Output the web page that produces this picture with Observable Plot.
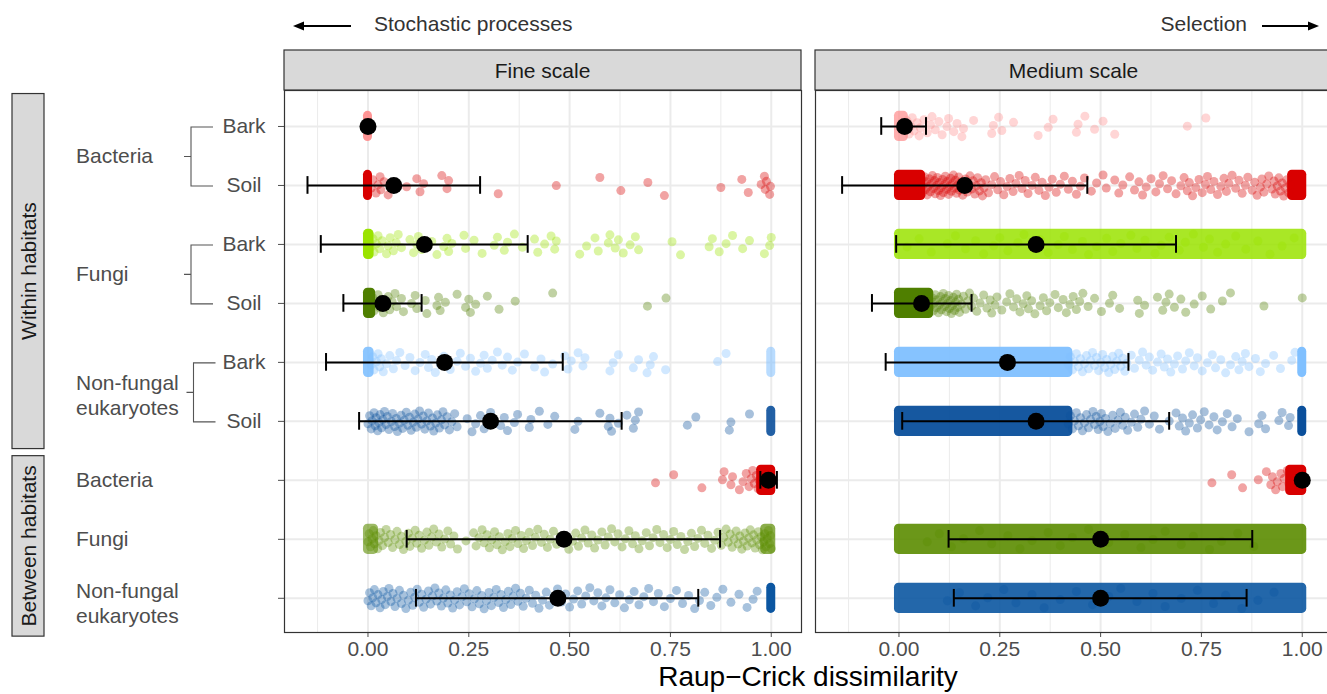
<!DOCTYPE html>
<html><head><meta charset="utf-8">
<script src="https://cdn.jsdelivr.net/npm/d3@7"></script>
<script src="https://cdn.jsdelivr.net/npm/@observablehq/plot@0.6"></script>
<style>
html,body{margin:0;padding:0;overflow:hidden;background:#fff;}
#chart{position:relative;width:1327px;height:694px;overflow:hidden;}
#chart svg{max-width:none !important;}
svg text{font-family:"Liberation Sans",Arial,sans-serif;}
</style></head><body><div id="chart"></div>
<script>
// ---------- categories ----------
const scales = ["Fine scale", "Medium scale"];
const rowIndex = [1, 2, 3, 4, 5, 6, 7, 8, 9];
const comparison = ["Within habitats", "Between habitats"];
const groupLabels = ["Bacteria", "Bacteria", "Fungi", "Fungi", "Non-fungal eukaryotes", "Non-fungal eukaryotes", "Bacteria", "Fungi", "Non-fungal eukaryotes"];
const habitatLabels = ["Bark", "Soil", "Bark", "Soil", "Bark", "Soil", "", "", ""];
const xTicks = [0, 0.25, 0.5, 0.75, 1];

// ---------- summary values (mean and error bar ends) ----------
const fineMean = [0.000, 0.064, 0.140, 0.037, 0.190, 0.304, 0.993, 0.486, 0.471];
const fineLow  = [null, -0.150, -0.117, -0.061, -0.104, -0.022, 0.973, 0.096, 0.119];
const fineHigh = [null, 0.278, 0.396, 0.133, 0.483, 0.629, 1.014, 0.873, 0.819];
const mediumMean = [0.014, 0.163, 0.340, 0.056, 0.269, 0.340, 1.000, 0.500, 0.500];
const mediumLow  = [-0.044, -0.141, -0.007, -0.067, -0.033, 0.008, null, 0.123, 0.136];
const mediumHigh = [0.067, 0.467, 0.687, 0.180, 0.569, 0.670, null, 0.876, 0.862];

// ---------- dense clusters: [row, from, to, density] ----------
const fineDense = [
  [1, 0, 0, 0.9], [2, 0, 0, 1], [3, 0, 0.004, 1], [4, 0, 0.008, 1], [5, 0, 0.004, 0.9],
  [5, 1, 1, 0.55], [6, 1, 1, 0.9], [7, 0.975, 1, 1], [8, 0, 0.015, 0.6], [8, 0.985, 1, 0.7], [9, 1, 1, 1]
];
const mediumDense = [
  [1, 0, 0.012, 0.7],
  [2, 0, 0.055, 1], [2, 0.975, 1, 1],
  [3, 0, 1, 0.85],
  [4, 0, 0.075, 1],
  [5, 0, 0.42, 0.95], [5, 1, 1, 1],
  [6, 0, 0.42, 0.95], [6, 1, 1, 1],
  [7, 0.97, 1, 1],
  [8, 0, 1, 0.9],
  [9, 0, 1, 0.9]
];

// ---------- individual points per row ----------
const finePoints = [
  [],
  [0.008,0.012,0.02,0.025,0.03,0.032,0.04,0.05,0.096,0.121,0.129,0.138,0.183,0.196,0.2,0.323,0.467,0.575,0.627,0.694,0.735,0.875,0.927,0.943,0.975,0.983,0.985,0.988,0.996,0.998],
  [0.008,0.013,0.015,0.021,0.025,0.029,0.035,0.046,0.05,0.055,0.063,0.07,0.075,0.083,0.104,0.113,0.121,0.125,0.133,0.158,0.171,0.188,0.196,0.2,0.208,0.238,0.242,0.263,0.283,0.313,0.321,0.338,0.346,0.363,0.383,0.413,0.421,0.438,0.454,0.463,0.467,0.525,0.542,0.563,0.571,0.596,0.6,0.613,0.621,0.633,0.65,0.663,0.671,0.754,0.775,0.846,0.854,0.871,0.888,0.904,0.929,0.946,0.983,0.996,1.0],
  [0.008,0.012,0.015,0.021,0.025,0.029,0.033,0.038,0.042,0.05,0.054,0.06,0.067,0.071,0.083,0.088,0.108,0.117,0.121,0.142,0.146,0.171,0.175,0.179,0.192,0.221,0.242,0.25,0.254,0.267,0.296,0.325,0.365,0.458,0.693,0.739],
  [0.008,0.012,0.015,0.021,0.025,0.029,0.033,0.038,0.046,0.054,0.063,0.071,0.079,0.092,0.104,0.117,0.129,0.142,0.15,0.158,0.167,0.179,0.188,0.204,0.221,0.229,0.242,0.254,0.267,0.279,0.288,0.296,0.308,0.321,0.333,0.346,0.358,0.371,0.388,0.413,0.429,0.438,0.458,0.488,0.496,0.504,0.521,0.533,0.538,0.6,0.608,0.621,0.658,0.671,0.692,0.7,0.708,0.738,0.867,0.888],
  [0,0.004,0.008,0.01,0.015,0.018,0.02,0.024,0.027,0.03,0.034,0.037,0.041,0.045,0.048,0.052,0.058,0.061,0.066,0.07,0.073,0.078,0.082,0.086,0.09,0.095,0.099,0.103,0.107,0.112,0.116,0.12,0.124,0.128,0.133,0.137,0.141,0.146,0.15,0.155,0.16,0.163,0.168,0.172,0.177,0.182,0.186,0.19,0.196,0.202,0.208,0.215,0.221,0.246,0.258,0.267,0.279,0.288,0.296,0.304,0.329,0.338,0.346,0.363,0.371,0.4,0.404,0.425,0.446,0.463,0.513,0.521,0.575,0.596,0.6,0.604,0.621,0.642,0.658,0.663,0.671,0.792,0.813,0.896,0.9,0.946],
  [0.713,0.758,0.828,0.879,0.883,0.9,0.904,0.921,0.93,0.938,0.945,0.95,0.954,0.958,0.963,0.967,0.97],
  [0,0.003,0.006,0.01,0.013,0.016,0.02,0.024,0.028,0.031,0.036,0.041,0.045,0.05,0.056,0.061,0.067,0.072,0.078,0.083,0.088,0.094,0.1,0.104,0.11,0.117,0.121,0.127,0.133,0.14,0.146,0.151,0.158,0.163,0.17,0.176,0.183,0.19,0.198,0.205,0.213,0.222,0.243,0.262,0.268,0.275,0.283,0.288,0.295,0.301,0.307,0.314,0.32,0.326,0.333,0.34,0.347,0.352,0.358,0.366,0.372,0.38,0.386,0.393,0.4,0.408,0.415,0.421,0.43,0.437,0.445,0.452,0.46,0.468,0.477,0.498,0.507,0.515,0.522,0.53,0.538,0.546,0.555,0.562,0.57,0.58,0.588,0.596,0.604,0.612,0.62,0.63,0.638,0.647,0.656,0.663,0.672,0.68,0.69,0.698,0.707,0.716,0.724,0.733,0.742,0.75,0.758,0.767,0.776,0.785,0.793,0.802,0.81,0.818,0.827,0.835,0.843,0.852,0.86,0.868,0.876,0.882,0.888,0.893,0.898,0.903,0.908,0.913,0.918,0.922,0.927,0.931,0.935,0.94,0.944,0.948,0.952,0.956,0.96,0.964,0.968,0.971,0.975,0.978,0.981,0.984,0.987,0.99,0.993,0.996,0.998,1],
  [0,0.004,0.008,0.012,0.016,0.02,0.025,0.03,0.034,0.038,0.043,0.048,0.052,0.057,0.062,0.067,0.072,0.078,0.083,0.088,0.094,0.1,0.106,0.111,0.116,0.122,0.127,0.133,0.138,0.144,0.15,0.155,0.16,0.166,0.171,0.176,0.182,0.187,0.193,0.198,0.204,0.21,0.215,0.221,0.227,0.233,0.239,0.245,0.251,0.258,0.264,0.27,0.276,0.282,0.288,0.294,0.3,0.306,0.312,0.318,0.324,0.33,0.336,0.342,0.348,0.354,0.36,0.366,0.372,0.378,0.385,0.392,0.4,0.408,0.416,0.424,0.433,0.442,0.45,0.46,0.47,0.48,0.49,0.5,0.51,0.52,0.53,0.54,0.55,0.56,0.57,0.58,0.59,0.6,0.612,0.624,0.636,0.648,0.66,0.672,0.684,0.696,0.708,0.72,0.735,0.75,0.765,0.78,0.795,0.81,0.822,0.835,0.85,0.865,0.88,0.9,0.92,0.94,0.955,0.965]
];
const mediumPoints = [
  [0.015,0.02,0.025,0.029,0.033,0.037,0.045,0.05,0.053,0.062,0.07,0.078,0.082,0.09,0.099,0.107,0.119,0.123,0.136,0.144,0.156,0.16,0.185,0.23,0.234,0.247,0.255,0.284,0.345,0.37,0.382,0.44,0.444,0.461,0.485,0.506,0.535,0.715,0.761],
  [0.052,0.055,0.058,0.06,0.063,0.065,0.068,0.07,0.072,0.075,0.078,0.08,0.083,0.085,0.088,0.09,0.093,0.095,0.098,0.1,0.103,0.105,0.108,0.11,0.113,0.115,0.118,0.12,0.123,0.125,0.128,0.13,0.133,0.135,0.138,0.14,0.143,0.145,0.148,0.15,0.154,0.158,0.162,0.165,0.169,0.172,0.176,0.18,0.184,0.188,0.192,0.195,0.2,0.204,0.207,0.211,0.215,0.222,0.23,0.237,0.245,0.252,0.26,0.268,0.275,0.283,0.29,0.298,0.305,0.313,0.32,0.33,0.338,0.347,0.355,0.363,0.372,0.38,0.39,0.4,0.41,0.42,0.43,0.44,0.45,0.46,0.477,0.49,0.506,0.514,0.535,0.545,0.555,0.572,0.584,0.595,0.604,0.613,0.625,0.637,0.646,0.655,0.666,0.676,0.687,0.699,0.707,0.715,0.72,0.728,0.736,0.744,0.752,0.76,0.765,0.773,0.781,0.79,0.798,0.806,0.812,0.818,0.826,0.835,0.843,0.851,0.859,0.865,0.876,0.882,0.888,0.896,0.9,0.905,0.912,0.917,0.925,0.93,0.933,0.938,0.942,0.946,0.95,0.954,0.958,0.962,0.966,0.97],
  [0.02,0.05,0.08,0.12,0.14,0.165,0.19,0.21,0.235,0.25,0.27,0.295,0.31,0.335,0.35,0.37,0.395,0.41,0.43,0.455,0.47,0.49,0.515,0.53,0.55,0.575,0.59,0.61,0.635,0.65,0.67,0.695,0.71,0.73,0.755,0.77,0.79,0.81,0.835,0.86,0.89,0.92,0.95,0.98],
  [0.078,0.082,0.085,0.088,0.09,0.093,0.095,0.098,0.1,0.103,0.105,0.108,0.11,0.113,0.115,0.118,0.12,0.123,0.125,0.128,0.13,0.133,0.135,0.138,0.14,0.143,0.145,0.148,0.15,0.155,0.16,0.165,0.17,0.175,0.18,0.185,0.193,0.201,0.21,0.218,0.226,0.23,0.238,0.243,0.255,0.267,0.275,0.284,0.292,0.3,0.308,0.317,0.321,0.329,0.337,0.35,0.358,0.366,0.374,0.387,0.395,0.407,0.415,0.424,0.432,0.44,0.448,0.456,0.469,0.485,0.502,0.522,0.53,0.547,0.592,0.596,0.609,0.641,0.654,0.662,0.67,0.683,0.699,0.711,0.732,0.752,0.773,0.802,0.822,0.905,1.0],
  [0.42,0.425,0.43,0.435,0.44,0.445,0.45,0.455,0.46,0.465,0.47,0.475,0.48,0.485,0.49,0.495,0.5,0.505,0.51,0.515,0.52,0.525,0.53,0.535,0.54,0.545,0.55,0.555,0.56,0.565,0.576,0.584,0.596,0.604,0.613,0.621,0.629,0.641,0.65,0.658,0.666,0.674,0.683,0.691,0.703,0.711,0.72,0.732,0.74,0.752,0.765,0.777,0.785,0.798,0.81,0.822,0.835,0.843,0.851,0.859,0.868,0.884,0.896,0.909,0.929,0.946,0.974,0.982],
  [0.42,0.425,0.43,0.435,0.44,0.445,0.45,0.455,0.46,0.465,0.47,0.475,0.481,0.485,0.489,0.494,0.498,0.502,0.506,0.512,0.518,0.524,0.53,0.536,0.543,0.549,0.555,0.561,0.567,0.576,0.584,0.592,0.6,0.609,0.621,0.633,0.646,0.67,0.687,0.695,0.703,0.711,0.72,0.728,0.74,0.748,0.757,0.769,0.781,0.789,0.802,0.814,0.826,0.839,0.868,0.892,0.9,0.909,0.942,0.95,0.966,0.97],
  [0.776,0.825,0.852,0.891,0.911,0.922,0.926,0.934,0.938,0.947,0.951,0.955,0.963,0.967,0.975,0.979],
  [0.07,0.1,0.13,0.16,0.2,0.23,0.27,0.3,0.33,0.37,0.4,0.43,0.47,0.52,0.56,0.6,0.63,0.66,0.7,0.73,0.77,0.8,0.84,0.88],
  [0.12,0.15,0.19,0.22,0.26,0.29,0.33,0.36,0.4,0.44,0.48,0.52,0.55,0.59,0.63,0.66,0.7,0.74,0.78,0.81,0.85,0.89,0.93]
];

// ---------- styles ----------
const palette = ["#ff8a8a", "#d90000", "#9ae300", "#4f7f00", "#80c0ff", "#0a4f9b", "#d90000", "#5b8c00", "#0b56a1"];
const minorGrid = [-0.125, 0.125, 0.375, 0.625, 0.875];
const jitter = i => (((i + 1) * 0.6180339887498949) % 1 - 0.5) * 0.36;

(function () {
// ---------- build tables ----------
const points = [];
[finePoints, mediumPoints].forEach((lists, si) =>
  lists.forEach((vals, r) => vals.forEach((v, k) => points.push({scale: scales[si], row: rowIndex[r], v, k, color: palette[r]}))));
const dense = [];
[fineDense, mediumDense].forEach((list, si) =>
  list.forEach(([row, from, to, density]) => dense.push({scale: scales[si], row, from, to, density, color: palette[row - 1]})));
const stats = [];
[[fineMean, fineLow, fineHigh], [mediumMean, mediumLow, mediumHigh]].forEach(([M, L, H], si) =>
  rowIndex.forEach((row, i) => stats.push({scale: scales[si], row, mean: M[i], lo: L[i], hi: H[i]})));
const bars = stats.filter(d => d.lo != null);
const caps = bars.flatMap(d => [{scale: d.scale, row: d.row, v: d.lo}, {scale: d.scale, row: d.row, v: d.hi}]);

const chart = Plot.plot({
  width: 1333, height: 694,
  marginLeft: 283, marginRight: 0, marginTop: 90, marginBottom: 62,
  style: {fontFamily: "Liberation Sans, Arial, sans-serif", fontSize: "21px", color: "#4d4d4d", background: "white", overflow: "visible", maxWidth: "none"},
  fx: {domain: scales, paddingInner: 0.0263, paddingOuter: 0, axis: null, label: null},
  x: {domain: [-0.207, 1.075], ticks: xTicks, tickFormat: d3.format(".2f"), tickSize: 5, tickPadding: 4, label: null},
  y: {domain: [0.39, 9.58], reverse: true, ticks: rowIndex, tickFormat: () => "", tickSize: 6, label: null},
  color: {type: "identity"},
  opacity: {domain: [0, 1], range: [0, 1]},
  marks: [
    Plot.ruleX(minorGrid, {stroke: "#ebebeb", strokeWidth: 1}),
    Plot.ruleX(xTicks, {stroke: "#ebebeb", strokeWidth: 2}),
    Plot.ruleY(rowIndex, {stroke: "#ebebeb", strokeWidth: 2}),
    Plot.rect(dense, {x1: "from", x2: "to", y1: d => d.row - 0.18, y2: d => d.row + 0.18, fx: "scale",
      fill: "color", fillOpacity: "density", rx: 4.5, insetLeft: -4.5, insetRight: -4.5, insetTop: -4.5, insetBottom: -4.5}),
    Plot.dot(points, {x: "v", y: d => d.row + jitter(d.k), fx: "scale", r: 4.5, fill: "color", fillOpacity: 0.36}),
    Plot.ruleY(bars, {x1: "lo", x2: "hi", y: "row", fx: "scale", stroke: "#000", strokeWidth: 2}),
    Plot.ruleX(caps, {x: "v", y1: d => d.row - 0.15, y2: d => d.row + 0.15, fx: "scale", stroke: "#000", strokeWidth: 2}),
    Plot.dot(stats, {x: "mean", y: "row", fx: "scale", r: 8.5, fill: "#000"}),
    Plot.frame({stroke: "#333", strokeWidth: 1.2})
  ]
});
document.getElementById("chart").appendChild(chart);

// ---------- overlay: strips, hierarchical labels, annotations ----------
const svg = d3.select(chart);
const fxs = chart.scale("fx"), ys = chart.scale("y");
const FX = fxs.apply ? k => fxs.apply(k) : d3.scaleBand(fxs.domain, fxs.range).paddingInner(0.0263).paddingOuter(0);
const BW = fxs.bandwidth;
const Y = ys.apply ? v => ys.apply(v) : d3.scaleLinear(ys.domain, ys.range);
const panelTop = Math.min(...ys.range);
const g = svg.append("g").attr("text-anchor", "start");
const FS = 21;

scales.forEach(s => {
  g.append("rect").attr("x", FX(s)).attr("y", panelTop - 40).attr("width", BW).attr("height", 40)
    .attr("fill", "#d9d9d9").attr("stroke", "#333").attr("stroke-width", 1.2);
  g.append("text").attr("x", FX(s) + BW / 2).attr("y", panelTop - 20).attr("text-anchor", "middle")
    .attr("dominant-baseline", "central").attr("font-size", FS).attr("fill", "#1a1a1a").text(s);
});

const panelLeft = FX(scales[0]);
const panelRight = FX(scales[1]) + BW;

// arrows + process labels
const arrow = (x1, x2, yy) => {
  const dir = Math.sign(x2 - x1);
  g.append("line").attr("x1", x1).attr("x2", x2 - dir * 8).attr("y1", yy).attr("y2", yy).attr("stroke", "#000").attr("stroke-width", 2);
  g.append("path").attr("d", `M${x2},${yy} L${x2 - dir * 11},${yy - 4.5} L${x2 - dir * 11},${yy + 4.5} Z`).attr("fill", "#000");
};
arrow(panelLeft + 67, panelLeft + 9, 26);
g.append("text").attr("x", panelLeft + 90).attr("y", 23).attr("text-anchor", "start").attr("dominant-baseline", "central")
  .attr("font-size", FS).attr("fill", "#333").text("Stochastic processes");
g.append("text").attr("x", panelRight - 85).attr("y", 23).attr("dominant-baseline", "central").attr("text-anchor", "end")
  .attr("font-size", FS).attr("fill", "#333").text("Selection");
arrow(panelRight - 70, panelRight - 13, 26);

// left vertical strips
const vstrip = (label, y0, y1) => {
  g.append("rect").attr("x", 12).attr("y", y0).attr("width", 32).attr("height", y1 - y0)
    .attr("fill", "#d9d9d9").attr("stroke", "#333").attr("stroke-width", 1.2);
  g.append("text").attr("transform", `translate(28,${(y0 + y1) / 2}) rotate(-90)`).attr("text-anchor", "middle")
    .attr("dominant-baseline", "central").attr("font-size", FS).attr("fill", "#1a1a1a").text(label);
};
vstrip(comparison[0], Y(0.45), Y(6.47));
vstrip(comparison[1], Y(6.59), Y(9.65));

// group labels
const label = (txt, x, yy) => {
  const lines = txt === "Non-fungal eukaryotes" ? ["Non-fungal", "eukaryotes"] : [txt];
  lines.forEach((t, i) => g.append("text").attr("x", x).attr("y", yy + (i - (lines.length - 1) / 2) * 25)
    .attr("text-anchor", "start").attr("dominant-baseline", "central").attr("font-size", FS).attr("fill", "#4d4d4d").text(t));
};
for (let i = 0; i < 6; i += 2) {
  const yb = Y(rowIndex[i]), ysoil = Y(rowIndex[i + 1]), mid = (yb + ysoil) / 2;
  const multi = groupLabels[i] === "Non-fungal eukaryotes";
  label(groupLabels[i], 76, mid + (multi ? 4 : 0));
  const bx = multi ? 193.5 : 191;
  g.append("path").attr("d", `M${bx + 22},${yb + 1} H${bx} V${ysoil + 1} H${bx + 22} M${bx - 7},${mid + 1} H${bx}`)
    .attr("fill", "none").attr("stroke", "#555").attr("stroke-width", 1.1);
  [i, i + 1].forEach(j => g.append("text").attr("x", 244).attr("y", Y(rowIndex[j])).attr("text-anchor", "middle")
    .attr("dominant-baseline", "central").attr("font-size", FS).attr("fill", "#4d4d4d").text(habitatLabels[j]));
}
for (let i = 6; i < 9; i++) {
  const multi = groupLabels[i] === "Non-fungal eukaryotes";
  label(groupLabels[i], 76, Y(rowIndex[i]) + (multi ? 5 : 0));
}

// x axis title
g.append("text").attr("x", (panelLeft + panelRight) / 2).attr("y", 676).attr("text-anchor", "middle")
  .attr("dominant-baseline", "central").attr("font-size", 28).attr("fill", "#000").text("Raup\u2212Crick dissimilarity");
})();
</script></body></html>
